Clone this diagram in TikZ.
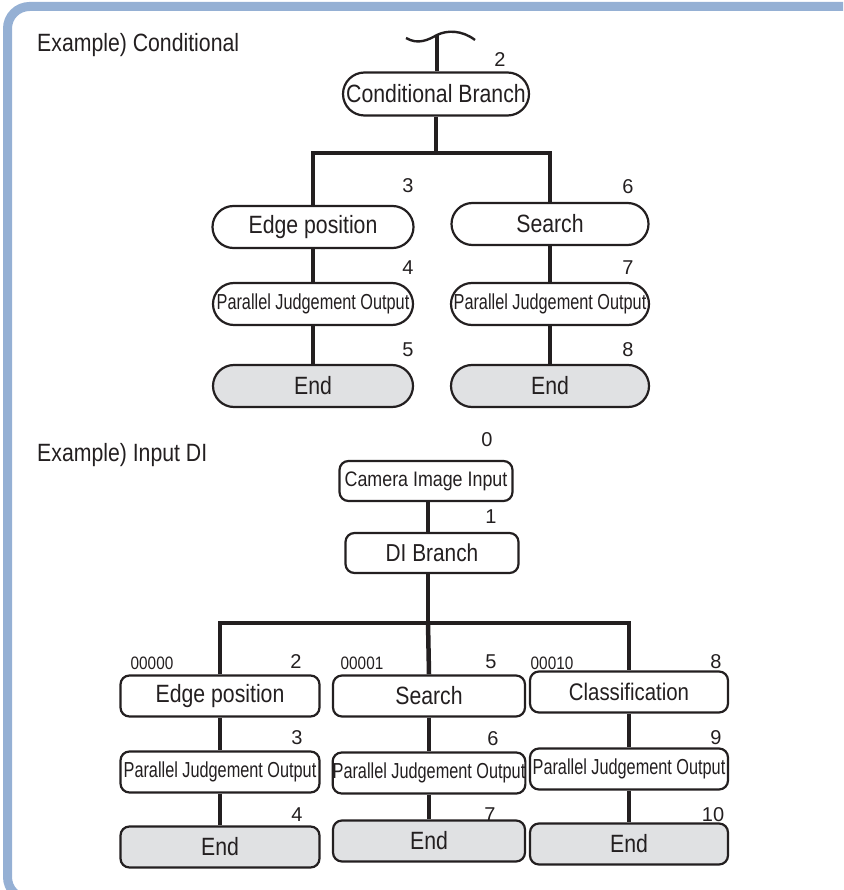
\documentclass[tikz,border=0pt]{standalone}
\usepackage{fontspec}
\setmainfont{Liberation Sans}
\newfontfamily\cond[FakeStretch=0.85]{Liberation Sans}
\newfontfamily\narrowf[FakeStretch=0.75]{Liberation Sans}
\usetikzlibrary{shapes.misc}
\definecolor{framecol}{RGB}{149,176,212}
\definecolor{ink}{RGB}{35,31,32}
\definecolor{endgray}{RGB}{224,225,227}
\begin{document}
\begin{tikzpicture}[x=1pt,y=-1pt,
  link/.style={line width=4.5pt, draw=ink},
  stad/.style={rounded rectangle, draw=ink, line width=2.2pt, fill=white, minimum height=42pt, inner sep=0pt, text=ink},
  rbox/.style={rectangle, rounded corners=9pt, draw=ink, line width=2.2pt, fill=white, minimum height=41pt, inner sep=0pt, text=ink},
  endfill/.style={fill=endgray},
  big/.style={font=\cond\fontsize{25}{25}\selectfont},
  small/.style={font=\narrowf\fontsize{21.7}{21.7}\selectfont},
  num/.style={font=\fontsize{20}{20}\selectfont, text=ink, inner sep=0pt},
  code/.style={font=\cond\fontsize{18}{18}\selectfont, text=ink, inner sep=0pt},
  head/.style={font=\cond\fontsize{25}{25}\selectfont, text=ink, inner sep=0pt, anchor=west}]
\useasboundingbox (0,0) rectangle (843,890);
\clip (0,0) rectangle (843,890);
\draw[framecol, line width=9pt, rounded corners=22pt] (7.5,6.5) rectangle (880,899);

% ---------- Example 1 ----------
\node[head] (h1) at (37,45) {Example) Conditional};
\coordinate (wave) at (437,35);
\draw[ink, line width=2.4pt] (406,38) .. controls (418,45) and (428,40) .. (437,35) .. controls (447,30) and (462,30) .. (475,40);

\node[stad, big, minimum width=186pt, minimum height=43pt] (cb) at (436,94) {Conditional Branch};
\node[stad, big, minimum width=201pt] (ep1) at (313,227) {Edge position};
\node[stad, big, minimum width=197pt] (se1) at (550,224) {Search};
\node[stad, small, minimum width=200pt] (pj1) at (313,304) {Parallel Judgement Output};
\node[stad, small, minimum width=198pt] (pj2) at (550,304) {Parallel Judgement Output};
\node[stad, big, endfill, minimum width=200pt] (en1) at (313,386) {End};
\node[stad, big, endfill, minimum width=198pt] (en2) at (550,386) {End};

\coordinate (j1) at (436,153);
\draw[link] (wave) -- (wave |- cb.north);
\draw[link] (cb.south) -- (j1);
\draw[link] (ep1.north) |- (j1) -| (se1.north);
\draw[link] (ep1.south) -- (pj1.north);
\draw[link] (pj1.south) -- (en1.north);
\draw[link] (se1.south) -- (pj2.north);
\draw[link] (pj2.south) -- (en2.north);

\node[num] (n2) at (500,60) {2};
\node[num] (n3) at (408,186) {3};
\node[num] (n4) at (408,268) {4};
\node[num] (n5) at (408,350) {5};
\node[num] (n6) at (628,187) {6};
\node[num] (n7) at (628,268) {7};
\node[num] (n8) at (628,350) {8};

% ---------- Example 2 ----------
\node[head] (h2) at (37,455) {Example) Input DI};
\node[rbox, font=\cond\fontsize{21}{21}\selectfont, minimum width=173pt, minimum height=40pt] (cam) at (426,481) {Camera Image Input};
\node[rbox, font=\cond\fontsize{24.5}{24.5}\selectfont, minimum width=173pt, minimum height=40pt] (di) at (432,553) {DI Branch};

\node[rbox, big, minimum width=199pt] (ep2) at (220,696) {Edge position};
\node[rbox, big, minimum width=192pt] (se2) at (429,696) {Search};
\node[rbox, font=\cond\fontsize{24}{24}\selectfont, minimum width=198pt] (cl) at (629,692) {Classification};
\node[rbox, small, minimum width=199pt] (pj3) at (220,772) {Parallel Judgement Output};
\node[rbox, small, minimum width=192pt] (pj4) at (429,773) {Parallel Judgement Output};
\node[rbox, small, minimum width=198pt] (pj5) at (629,769) {Parallel Judgement Output};
\node[rbox, big, endfill, minimum width=199pt] (en3) at (220,847) {End};
\node[rbox, big, endfill, minimum width=192pt] (en4) at (429,841) {End};
\node[rbox, big, endfill, minimum width=198pt] (en5) at (629,844) {End};

\coordinate (j2) at (428,623);
\draw[link] (cam.south -| j2) -- (di.north -| j2);
\draw[link] (di.south -| j2) -- (j2);
\draw[link] (ep2.north) |- (j2) -| (cl.north);
\draw[link] (j2) -- (se2.north);
\draw[link] (ep2.south) -- (pj3.north);
\draw[link] (pj3.south) -- (en3.north);
\draw[link] (se2.south) -- (pj4.north);
\draw[link] (pj4.south) -- (en4.north);
\draw[link] (cl.south) -- (pj5.north);
\draw[link] (pj5.south) -- (en5.north);

\node[num] (m0) at (487,440) {0};
\node[num] (m1) at (491,517) {1};
\node[num] (m2) at (296,662) {2};
\node[num] (m3) at (297,738) {3};
\node[num] (m4) at (297,815) {4};
\node[num] (m5) at (491,662) {5};
\node[num] (m6) at (493,739) {6};
\node[num] (m7) at (490,815) {7};
\node[num] (m8) at (716,662) {8};
\node[num] (m9) at (716,738) {9};
\node[num] (m10) at (713,815) {10};
\node[code] (c0) at (152,663) {00000};
\node[code] (c1) at (362,663) {00001};
\node[code] (c2) at (552,663) {00010};
\end{tikzpicture}
\end{document}
